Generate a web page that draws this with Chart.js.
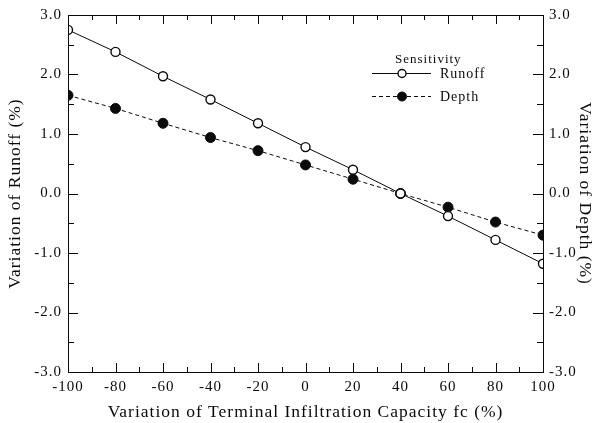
<!DOCTYPE html>
<html>
<head>
<meta charset="utf-8">
<script src="https://cdn.jsdelivr.net/npm/chart.js@4.4.1/dist/chart.umd.min.js"></script>
<style>
  html, body { margin: 0; padding: 0; background: #fff; }
  #wrap { width: 598px; height: 423px; }
</style>
</head>
<body>
<div id="wrap"><canvas id="sensChart"></canvas></div>
<script>
// variation of terminal infiltration capacity fc (%)
const fcVariation = [-100, -80, -60, -40, -20, 0, 20, 40, 60, 80, 100];
const runoffSens = [2.75, 2.38, 1.97, 1.58, 1.18, 0.78, 0.40, 0.00, -0.38, -0.78, -1.18];
const depthSens  = [1.65, 1.43, 1.18, 0.94, 0.72, 0.48, 0.24, 0.00, -0.23, -0.48, -0.70];
const seriesNames = ['Runoff', 'Depth'];
const legendTitle = 'Sensitivity';

const serif = "'Liberation Serif', 'Times New Roman', serif";
const ink = '#0a0a0a';

const toPoints = (ys) => fcVariation.map((x, i) => ({ x: x, y: ys[i] }));

// the scanned original has loosely spaced type
const spacing = {
    id: 'spacing',
    beforeLayout(chart) { chart.ctx.letterSpacing = '1px'; },
    beforeDraw(chart) { chart.ctx.letterSpacing = '1px'; }
};

// frame + inward tick marks, like the original plot
const frameTicks = {
    id: 'frameTicks',
    afterDraw(chart) {
        const { ctx, chartArea: a, scales } = chart;
        ctx.save();
        ctx.strokeStyle = ink;
        ctx.lineWidth = 1;
        ctx.strokeRect(a.left + 0.5, a.top + 0.5, a.right - a.left, a.bottom - a.top);
        ctx.beginPath();
        for (let v = -100; v <= 100; v += 10) {
            const px = Math.round(scales.x.getPixelForValue(v)) + 0.5;
            const len = v % 20 === 0 ? 9 : 5;
            ctx.moveTo(px, a.bottom); ctx.lineTo(px, a.bottom - len);
            ctx.moveTo(px, a.top); ctx.lineTo(px, a.top + len);
        }
        for (let v = -3; v <= 3.001; v += 0.5) {
            const py = Math.round(scales.y.getPixelForValue(v)) + 0.5;
            const len = Math.abs(v % 1) < 0.01 ? 10 : 6;
            ctx.moveTo(a.left, py); ctx.lineTo(a.left + len, py);
            ctx.moveTo(a.right, py); ctx.lineTo(a.right - len, py);
        }
        ctx.stroke();
        ctx.restore();
    }
};

// legend drawn inside the plot, no box
const sensLegend = {
    id: 'sensLegend',
    afterDraw(chart) {
        const ctx = chart.ctx;
        const x0 = 372, x1 = 431, xc = 402, tx = 440;
        const rows = [73, 96];
        ctx.save();
        ctx.fillStyle = ink;
        ctx.textBaseline = 'middle';
        ctx.font = '13px ' + serif;
        ctx.fillText(legendTitle, 395, 60);
        chart.data.datasets.forEach((ds, i) => {
            const y = rows[i] + 0.5;
            ctx.strokeStyle = ink;
            ctx.lineWidth = 1;
            ctx.setLineDash(ds.borderDash || []);
            ctx.beginPath();
            ctx.moveTo(x0, y); ctx.lineTo(x1, y);
            ctx.stroke();
            ctx.setLineDash([]);
            ctx.beginPath();
            ctx.arc(xc, y, ds.pointRadius - 0.5, 0, Math.PI * 2);
            ctx.fillStyle = ds.pointBackgroundColor;
            ctx.fill();
            ctx.lineWidth = ds.pointBorderWidth;
            ctx.stroke();
            ctx.fillStyle = ink;
            ctx.font = '14px ' + serif;
            ctx.fillText(ds.label, tx, rows[i] + 1);
        });
        ctx.restore();
    }
};

const ctx = document.getElementById('sensChart').getContext('2d');

const tickFont = { family: serif, size: 15 };
const titleFont = { family: serif, size: 17.5 };

const config = {
    type: 'line',
    data: {
        datasets: [
            {
                label: seriesNames[0],
                data: toPoints(runoffSens),
                borderColor: ink,
                borderWidth: 1,
                pointRadius: 4.5,
                pointBorderWidth: 1.4,
                pointBackgroundColor: '#fff',
                pointBorderColor: ink,
                tension: 0
            },
            {
                label: seriesNames[1],
                data: toPoints(depthSens),
                borderColor: ink,
                borderWidth: 1,
                borderDash: [4, 3],
                pointRadius: 5,
                pointBorderWidth: 1,
                pointBackgroundColor: ink,
                pointBorderColor: ink,
                tension: 0
            }
        ]
    },
    options: {
        responsive: true,
        maintainAspectRatio: false,
        animation: false,
        layout: { padding: { top: 13, left: 0, right: 0, bottom: 0 } },
        plugins: {
            legend: { display: false },
            tooltip: { enabled: false }
        },
        scales: {
            x: {
                type: 'linear',
                min: -100,
                max: 100,
                grid: { display: false, drawTicks: false, tickLength: 0 },
                border: { display: false },
                ticks: { stepSize: 20, padding: 6, color: ink, font: tickFont },
                title: {
                    display: true,
                    text: 'Variation of Terminal Infiltration Capacity fc (%)',
                    color: ink,
                    font: titleFont,
                    padding: { top: 0, bottom: 0 }
                },
                afterFit(s) { s.height = 51; }
            },
            y: {
                position: 'left',
                min: -3,
                max: 3,
                grid: { display: false, drawTicks: false, tickLength: 0 },
                border: { display: false },
                ticks: {
                    stepSize: 1,
                    padding: 6,
                    color: ink,
                    font: tickFont,
                    callback: (v) => v.toFixed(1)
                },
                title: {
                    display: true,
                    text: 'Variation of Runoff (%)',
                    color: ink,
                    font: titleFont,
                    padding: { top: 5, bottom: 0 }
                },
                afterFit(s) { s.width = 68; }
            },
            y2: {
                position: 'right',
                min: -3,
                max: 3,
                grid: { display: false, drawTicks: false, tickLength: 0 },
                border: { display: false },
                ticks: {
                    stepSize: 1,
                    padding: 6,
                    color: ink,
                    font: tickFont,
                    callback: (v) => v.toFixed(1)
                },
                title: {
                    display: true,
                    text: 'Variation of Depth (%)',
                    color: ink,
                    font: titleFont,
                    padding: { top: 3, bottom: 0 }
                },
                afterFit(s) { s.width = 55; }
            }
        }
    },
    plugins: [spacing, frameTicks, sensLegend]
};

new Chart(ctx, config);
</script>
</body>
</html>
